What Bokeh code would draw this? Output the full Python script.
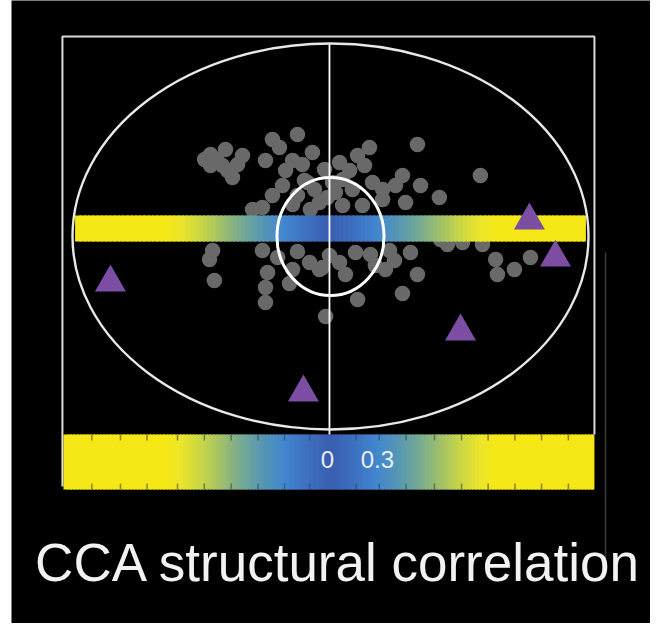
import numpy as np
from bokeh.plotting import figure
from bokeh.models import Range1d
from bokeh.core.properties import value
from bokeh.embed import file_html
from bokeh.resources import INLINE

# ---- data (CCA space: outer ellipse = unit correlation circle) ----
sample_x = [-0.465, -0.407, -0.341, -0.465, -0.419, -0.380, -0.442, -0.360,
            -0.225, -0.198, -0.128, -0.252, -0.174, -0.147, -0.109, -0.070,
            -0.023, -0.062, -0.225, -0.264, -0.302, -0.186, -0.128, -0.043,
            0.019, 0.074, 0.105, 0.151, 0.337, 0.085, 0.163, 0.202,
            0.252, 0.349, 0.422, 0.291, 0.202, 0.124, 0.047, 0.581,
            0.008, -0.101, -0.089, 0.047, -0.012, -0.147, -0.078, -0.399,
            -0.488, 0.279,
            -0.457, -0.469, -0.450, -0.264, -0.252, -0.252, -0.159, -0.128,
            -0.081, -0.004, 0.035, 0.058, 0.097, 0.105, 0.174, 0.213,
            0.229, 0.310, 0.337, 0.279, -0.019, -0.244, 0.589, 0.640,
            0.647, 0.713, 0.775, 0.512, 0.453, 0.426, 0.035, 0.132,
            -0.147, -0.043, -0.205, -0.031, 0.155, 0.248]
sample_y = [0.425, 0.451, 0.420, 0.368, 0.368, 0.306, 0.399, 0.373,
            0.503, 0.461, 0.528, 0.394, 0.342, 0.394, 0.373, 0.435,
            0.347, 0.244, 0.212, 0.150, 0.140, 0.264, 0.212, 0.176,
            0.228, 0.342, 0.420, 0.461, 0.477, 0.244, 0.280, 0.244,
            0.264, 0.264, 0.202, 0.176, 0.192, 0.161, 0.161, 0.316,
            0.280, 0.290, 0.280, 0.295, 0.202, 0.166, 0.140, 0.342,
            0.399, 0.316,
            -0.073, -0.119, -0.228, -0.073, -0.264, -0.342, -0.244, -0.078,
            -0.135, -0.098, -0.135, -0.197, -0.083, -0.326, -0.150, -0.171,
            -0.073, -0.083, -0.197, -0.295, -0.415, -0.187, -0.041, -0.119,
            -0.197, -0.171, -0.109, -0.031, -0.041, -0.016, 0.383, 0.368,
            -0.171, -0.171, -0.109, -0.161, -0.093, -0.124]

var_x = [-0.853, -0.105, 0.504, 0.771, 0.872]
var_y = [-0.238, -0.808, -0.492, 0.083, -0.109]

# colour scale: |structural correlation| -> colour
scale_pos = [0.00, 0.10, 0.18, 0.26, 0.34, 0.42, 0.50, 0.58, 0.64, 1.20]
scale_col = ["#3a5db0", "#3d72c2", "#4287cf", "#5596b4", "#74a996",
             "#9ebf6c", "#c8d646", "#ece52a", "#f5e816", "#f5e816"]

cb_tick_x = [-0.925, -0.814, -0.711, -0.593, -0.489, -0.385, -0.281, -0.178,
             -0.081, 0.099, 0.189, 0.293, 0.403, 0.508, 0.611, 0.715, 0.818,
             0.922]
cb_labels = ["0", "0.3"]
cb_label_x = [-0.012, 0.182]

title = "CCA structural correlation"

FONT = value("Liberation Sans")


def ramp(xs):
    rgb = np.array([[int(c[i:i + 2], 16) for i in (1, 3, 5)] for c in scale_col])
    a = np.abs(np.asarray(xs))
    out = []
    for v in a:
        r, g, b = (int(round(np.interp(v, scale_pos, rgb[:, k]))) for k in range(3))
        out.append("#%02x%02x%02x" % (r, g, b))
    return out


def gradient_bar(x0, x1, y0, y1, n):
    e = np.linspace(x0, x1, n + 1)
    m = (e[:-1] + e[1:]) / 2
    step = e[1] - e[0]
    right = np.minimum(e[1:] + step * 0.6, x1)
    p.quad(left=e[:-1], right=right, bottom=y0, top=y1,
           fill_color=ramp(m), line_color=None)


p = figure(width=650, height=623,
           x_range=Range1d(-1.2364, 1.2403), y_range=Range1d(-2.0052, 1.2228),
           output_backend="svg", toolbar_location=None,
           x_axis_location=None, y_axis_location=None,
           min_border_left=11, min_border_right=0, min_border_top=0, min_border_bottom=0,
           background_fill_color="black", border_fill_color="white")
p.grid.visible = False
p.outline_line_color = None

# grey sample points
p.scatter(sample_x, sample_y, size=15.5, marker="circle", fill_color="#696969",
          line_color=None)

# horizontal gradient band
gradient_bar(-0.99, 0.99, -0.026, 0.109, 120)

# inner circle, axis line, outer correlation ellipse
p.ellipse(x=0, y=0, width=0.415, height=0.611, fill_color=None,
          line_color="white", line_width=3)
p.line([-0.004, -0.004], [1.0, -1.03], line_color="white", line_width=1.8)
p.ellipse(x=0, y=0, width=2, height=2, fill_color=None,
          line_color="#e8e8e8", line_width=2.4)

# frame lines
p.line([-1.039, -1.039, 1.023, 1.023], [-1.295, 1.036, 1.036, -1.026],
       line_color="#dcdcdc", line_width=2)

# colour bar
gradient_bar(-1.035, 1.023, -1.311, -1.026, 160)
p.segment(x0=cb_tick_x, y0=-1.026, x1=cb_tick_x, y1=-1.057,
          line_color="#404040", line_alpha=0.6, line_width=1.5)
p.segment(x0=cb_tick_x, y0=-1.311, x1=cb_tick_x, y1=-1.280,
          line_color="#404040", line_alpha=0.6, line_width=1.5)
p.text(x=cb_label_x, y=[-1.158] * len(cb_labels), text=cb_labels,
       text_font=FONT, text_font_size="24px",
       text_color="#e8eef8", text_align="center", text_baseline="middle")

# purple triangles (variables)
p.scatter(var_x, var_y, marker="triangle", size=31, fill_color="#7b4ea3",
          line_color=None)

# thin grey line at right
p.line([1.066, 1.066], [-0.083, -1.674], line_color="#3a3a3a", line_width=1.5)

# title
p.text(x=[0.031], y=[-1.689], text=[title],
       text_font=FONT, text_font_size="53px",
       text_color="#f2f2f2", text_align="center", text_baseline="alphabetic")

open("out.html", "w").write(file_html(p, INLINE))
